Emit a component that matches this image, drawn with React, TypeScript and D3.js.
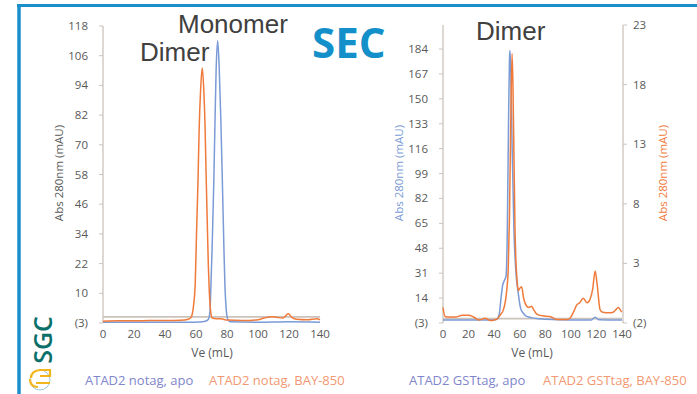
import React from 'react';
import * as d3 from 'd3';

// Ve (mL) / absorbance pairs
const notagApo: [number, number][] = [
  [0, -2.2], [20, -2.2], [40, -2.2], [55, -2.2], [62, -2.1], [66, -1.8], [68, -1], [69, 2], [69.5, 10],
  [70.5, 30], [71.5, 55], [72.3, 80], [73, 100], [74, 111.5], [75, 100], [76, 80], [77, 55],
  [78, 28], [78.7, 12], [79.5, 3], [80.5, -1], [82, -2], [100, -2.2], [120, -2], [140, -2.2],
];
const notagBay: [number, number][] = [
  [0, -1.8], [10, -1.6], [20, -1.6], [30, -1.5], [40, -1.5], [50, -1.4], [55, -1], [57, 0],
  [58.5, 5], [59.4, 12], [60.4, 35], [61.3, 55], [62, 75], [63, 92], [64, 100.5], [65, 92],
  [65.8, 78], [66.5, 58], [67.2, 40], [68, 20], [68.6, 10], [69.5, 2], [70.5, -0.5], [73, -0.8],
  [76, -0.8], [80, -1.3], [90, -1.5], [100, -1.2], [104, -0.5], [109, 0], [112, -0.2], [116, -0.5],
  [119.5, 1.2], [122, -0.3], [125, -1], [132, -1.2], [138, -0.8], [140, -1.2],
];
const gstApo: [number, number][] = [
  [0, -1], [20, -1], [40, -1], [42, -0.5], [44, 3], [45.5, 15], [46.5, 22], [48, 26], [49.3, 29],
  [50.3, 60], [51.2, 130], [52, 178], [52.4, 183], [53, 170], [54, 120], [55.5, 60], [57, 32],
  [58.9, 17], [60.7, 7], [63, 3.5], [65.4, 1.5], [70, 0.5], [80, -0.5], [100, -1], [116, -1],
  [119, 1], [122, -0.8], [140, -1],
];
const gstBay: [number, number][] = [
  [0, -0.7], [1.6, -1.45], [5, -1.5], [10, -1.5], [15, -1.35], [20, -1.35], [24, -1.5], [28, -1.75],
  [33, -1.6], [37, -1.8], [40, -1.75], [43, -1.6], [45, -1.3], [47.2, -0.9], [49.8, 0.7], [51, 2.5],
  [52, 7], [53, 15], [54, 20.6], [54.7, 18], [55.5, 12], [56.3, 6], [57, 3.3], [58, 1.5], [58.9, 0.7],
  [60, 0.9], [61.5, 1.05], [63, 0.1], [64.5, -0.4], [67, -0.7], [69.3, -0.6], [71, -0.9], [73.3, -1.25],
  [78, -1.4], [83.6, -1.45], [89, -1.7], [97, -1.7], [99.3, -1.6], [102, -1.1], [104.5, -0.5],
  [107, -0.3], [109.7, 0.07], [112.8, -0.3], [115, 0], [117, 0.8], [119, 2.36], [120.5, 1.3],
  [122.9, -0.9], [125, -1.1], [130, -1.15], [133, -1.1], [135, -0.9], [137, -0.7], [139.7, -1.1],
];

const xTicks = [0, 20, 40, 60, 80, 100, 120, 140];
const leftTicks = [-2.5, 9.5, 21.5, 33.5, 45.5, 57.5, 69.5, 81.5, 93.5, 105.5, 117.5];
const leftTickLabels = ['(3)', '10', '22', '34', '46', '58', '70', '82', '94', '106', '118'];
const rightTicks = [-3, 14, 31, 48, 65, 82, 99, 116, 133, 150, 167, 184];
const rightTickLabels = ['(3)', '14', '31', '48', '65', '82', '99', '116', '133', '150', '167', '184'];
const secTicks = [-2, 3, 8, 13, 18, 23];
const secTickLabels = ['(2)', '3', '8', '13', '18', '23'];

const BLUE = '#7b9bd6';
const ORANGE = '#f07a3a';
const AXIS = '#cbc3bb';
const TXT = '#595959';
const FONT = '"Open Sans", sans-serif';

const YAxis = ({ scale, ticks, labels, x, side }: any) => {
  const dir = side === 'left' ? -1 : 1;
  const [y0, y1] = scale.range();
  return (
    <g>
      <line x1={x} x2={x} y1={y0} y2={y1} stroke={AXIS} strokeWidth={1.3} />
      {ticks.map((t: number, i: number) => (
        <g key={i}>
          <line x1={x} x2={x + dir * 4} y1={scale(t)} y2={scale(t)} stroke={AXIS} strokeWidth={1} />
          <text x={x + dir * (side === 'left' ? 15 : 10)} y={scale(t)} dy="0.35em" fontSize={11.5}
            fill={TXT} fontFamily={FONT} textAnchor={side === 'left' ? 'end' : 'start'}>{labels[i]}</text>
        </g>
      ))}
    </g>
  );
};

const XAxis = ({ scale, y0, y }: any) => (
  <g>
    <line x1={scale.range()[0]} x2={scale.range()[1]} y1={y0} y2={y0} stroke={AXIS} strokeWidth={1.8} />
    {xTicks.map((t) => (
      <text key={t} x={scale(t)} y={y} dy="0.35em" textAnchor="middle" fontSize={11.5} fill={TXT} fontFamily={FONT}>{t}</text>
    ))}
  </g>
);

export default function App() {
  // left chart
  const xL = d3.scaleLinear().domain([0, 140]).range([103, 320]);
  const yL = d3.scaleLinear().domain([-2.5, 117.5]).range([323, 26]);
  // right chart
  const xR = d3.scaleLinear().domain([0, 140]).range([443, 622]);
  const yR = d3.scaleLinear().domain([-3, 200.4]).range([323, 25]);
  const yS = d3.scaleLinear().domain([-2, 23]).range([323, 25]);

  const lineL = d3.line<[number, number]>().x(d => xL(d[0])).y(d => yL(d[1])).curve(d3.curveMonotoneX);
  const lineR = d3.line<[number, number]>().x(d => xR(d[0])).y(d => yR(d[1])).curve(d3.curveMonotoneX);
  const lineS = d3.line<[number, number]>().x(d => xR(d[0])).y(d => yS(d[1])).curve(d3.curveMonotoneX);

  return (
    <svg width={697} height={394} style={{ position: 'absolute', left: 0, top: 0, background: '#fff' }}>
      {/* frame */}
      <line x1={17} x2={697} y1={5.5} y2={5.5} stroke="#1b8fcb" strokeWidth={3} />
      <line x1={19} x2={19} y1={4} y2={394} stroke="#1b8fcb" strokeWidth={3.5} />

      <text x={312} y={58} fontSize={42} fontWeight={700} fill="#1390ca" fontFamily={FONT}>SEC</text>

      {/* SGC mark */}
      <text transform="translate(52,340) rotate(-90)" textAnchor="middle" fontSize={25} fontWeight={600}
        fill="#0b6f6a" fontFamily={FONT}>SGC</text>
      <circle cx={40} cy={380} r={10} fill="none" stroke="#9fc9dc" strokeWidth={1} />
      <path d="M31,378 q0,-7 9,-8 l10,0 l0,6 l-10,0 M30,379 q0,8 8,8 M36,383 l14,0" fill="none" stroke="#f2b51c" strokeWidth={2.2} />

      {/* left chart */}
      <YAxis scale={yL} ticks={leftTicks} labels={leftTickLabels} x={103} side="left" />
      <XAxis scale={xL} y0={yL(0)} y={334} />
      <path d={lineL(notagApo) || ''} fill="none" stroke={BLUE} strokeWidth={1.5} />
      <path d={lineL(notagBay) || ''} fill="none" stroke={ORANGE} strokeWidth={1.5} />
      <text transform="translate(63,173) rotate(-90)" textAnchor="middle" fontSize={11.5} fill={TXT} fontFamily={FONT}>Abs 280nm (mAU)</text>
      <text x={212} y={353} dy="0.35em" textAnchor="middle" fontSize={12} fill={TXT} fontFamily={FONT}>Ve (mL)</text>
      <text x={178} y={33} fontSize={26} fill="#404040" fontFamily='"Liberation Sans", Arial, sans-serif'>Monomer</text>
      <text x={140} y={61} fontSize={26} fill="#404040" fontFamily='"Liberation Sans", Arial, sans-serif'>Dimer</text>
      <text x={85} y={380} dy="0.35em" fontSize={13} fill="#7f86cc" fontFamily={FONT}>ATAD2 notag, apo</text>
      <text x={209} y={380} dy="0.35em" fontSize={13} fill="#f29872" fontFamily={FONT}>ATAD2 notag, BAY-850</text>

      {/* right chart */}
      <YAxis scale={yR} ticks={rightTicks} labels={rightTickLabels} x={443} side="left" />
      <YAxis scale={yS} ticks={secTicks} labels={secTickLabels} x={623} side="right" />
      <XAxis scale={xR} y0={yR(0)} y={334} />
      <path d={lineR(gstApo) || ''} fill="none" stroke={BLUE} strokeWidth={1.5} />
      <path d={lineS(gstBay) || ''} fill="none" stroke={ORANGE} strokeWidth={1.5} />
      <text transform="translate(403,173) rotate(-90)" textAnchor="middle" fontSize={11.5} fill={BLUE} fontFamily={FONT}>Abs 280nm (mAU)</text>
      <text transform="translate(667,173) rotate(-90)" textAnchor="middle" fontSize={11.5} fill={ORANGE} fontFamily={FONT}>Abs 280nm (mAU)</text>
      <text x={532} y={353} dy="0.35em" textAnchor="middle" fontSize={12} fill={TXT} fontFamily={FONT}>Ve (mL)</text>
      <text x={476} y={40} fontSize={26} fill="#404040" fontFamily='"Liberation Sans", Arial, sans-serif'>Dimer</text>
      <text x={409} y={380} dy="0.35em" fontSize={13} fill="#7f86cc" fontFamily={FONT}>ATAD2 GSTtag, apo</text>
      <text x={543} y={380} dy="0.35em" fontSize={13} fill="#f29872" fontFamily={FONT}>ATAD2 GSTtag, BAY-850</text>
    </svg>
  );
}
